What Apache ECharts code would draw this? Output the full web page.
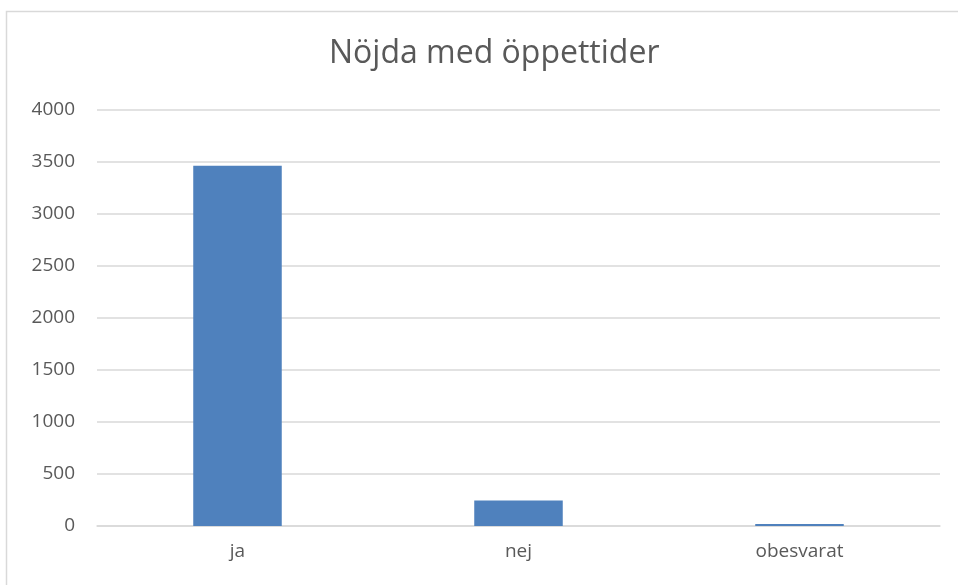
<!DOCTYPE html>
<html><head><meta charset="utf-8">
<script src="https://cdn.jsdelivr.net/npm/echarts@6/dist/echarts.min.js"></script>
<style>html,body{margin:0;padding:0;background:#fff}#c{width:958px;height:585px}</style>
</head><body><div id="c"></div>
<script>
const title = "Nöjda med öppettider";
const categories = ["ja", "nej", "obesvarat"];
const values = [3465, 245, 20];
const yTicks = {min: 0, max: 4000, interval: 500};

const chart = echarts.init(document.getElementById('c'), null, {renderer: 'canvas'});
chart.setOption({
  animation: false,
  backgroundColor: '#fff',
  graphic: [{
    type: 'rect', left: 4, top: 9,
    shape: {width: 1000, height: 1000},
    style: {fill: 'none', stroke: '#d9d9d9', lineWidth: 1.5},
    silent: true
  }],
  title: {
    text: title, left: 324, top: 33,
    textStyle: {fontFamily: 'Open Sans', fontSize: 32, fontWeight: 'normal', color: '#595959'}
  },
  grid: {left: 97, right: 18, top: 110, bottom: 59, containLabel: false},
  xAxis: {
    type: 'category', data: categories,
    axisLine: {lineStyle: {color: '#d9d9d9', width: 1.5}},
    axisTick: {show: false},
    axisLabel: {fontFamily: 'Open Sans', fontSize: 19, color: '#595959', margin: 16}
  },
  yAxis: {
    type: 'value', min: yTicks.min, max: yTicks.max, interval: yTicks.interval,
    axisLine: {show: false}, axisTick: {show: false},
    splitLine: {lineStyle: {color: '#d9d9d9', width: 1.5}},
    axisLabel: {fontFamily: 'Open Sans', fontSize: 19, color: '#595959', margin: 22,
      formatter: v => String(v)}
  },
  series: [{
    type: 'bar', data: values, barWidth: '31.5%',
    itemStyle: {color: '#4f81bd'}
  }]
});
</script></body></html>
